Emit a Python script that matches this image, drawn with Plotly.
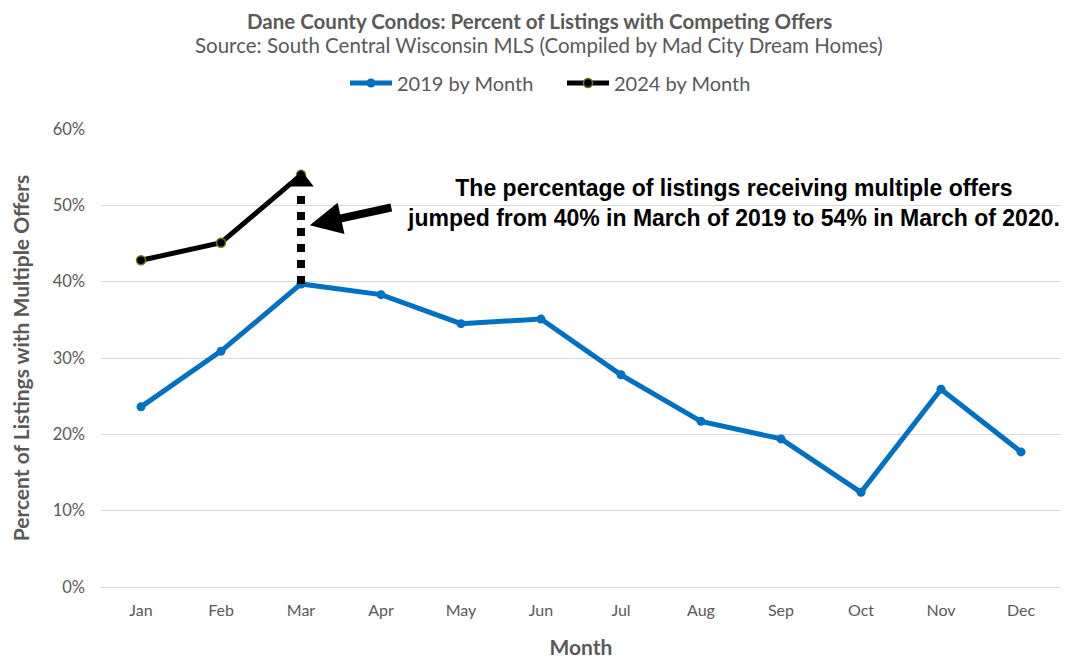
import plotly.graph_objects as go

months = ["Jan", "Feb", "Mar", "Apr", "May", "Jun", "Jul", "Aug", "Sep", "Oct", "Nov", "Dec"]
pct_2019 = [23.6, 30.9, 39.7, 38.3, 34.5, 35.1, 27.8, 21.7, 19.4, 12.4, 25.9, 17.7]
months_2024 = ["Jan", "Feb", "Mar"]
pct_2024 = [42.8, 45.1, 54.0]
y_ticks = [0, 10, 20, 30, 40, 50, 60]

FONT = "Lato"
GREY = "#595959"
OFF = 8  # page body margin
W, H = 1087 - OFF, 667 - OFF
PLOT_TOP, PLOT_BOTTOM, PLOT_LEFT, PLOT_W = 129 - OFF, 587 - OFF, 101 - OFF, 960
PLOT_H = PLOT_BOTTOM - PLOT_TOP


def px(screen_x):
    return (screen_x - OFF - PLOT_LEFT) / PLOT_W


def py(screen_y):
    return (PLOT_BOTTOM - (screen_y - OFF)) / PLOT_H


fig = go.Figure()
fig.add_trace(go.Scatter(
    x=months, y=pct_2019, mode="lines+markers", name="2019 by Month",
    line=dict(color="#0070C0", width=5), marker=dict(size=9, color="#0070C0"),
))
fig.add_trace(go.Scatter(
    x=months_2024, y=pct_2024, mode="lines+markers", name="2024 by Month",
    line=dict(color="#000000", width=5),
    marker=dict(size=9, color="#000000", line=dict(color="#6B7A1E", width=1.5)),
))
# dotted vertical arrow from Mar 2019 to Mar 2024
fig.add_trace(go.Scatter(
    x=["Mar", "Mar"], y=[pct_2019[2], pct_2024[2] - 2.2], mode="lines",
    line=dict(color="#000000", width=8, dash="dot"), showlegend=False, hoverinfo="skip",
))
fig.add_trace(go.Scatter(
    x=["Mar"], y=[pct_2024[2] - 0.8], mode="markers",
    marker=dict(symbol="triangle-up", size=22, color="#000000"),
    showlegend=False, hoverinfo="skip",
))

fig.add_annotation(
    x=2.11, y=47.4, xref="x", yref="y", ax=83, ay=-18,
    showarrow=True, arrowhead=2, arrowsize=0.8, arrowwidth=8, arrowcolor="#000000", text="",
)
fig.add_annotation(
    x=px(733), y=py(203), xref="paper", yref="paper", showarrow=False,
    text="The percentage of listings receiving multiple offers<br>jumped from 40% in March of 2019 to 54% in March of 2020.",
    font=dict(family="Liberation Sans", size=23, color="#000000", weight="bold"),
    align="center", xanchor="center", yanchor="middle",
)
# title lines
fig.add_annotation(
    x=px(539), y=py(21), xref="paper", yref="paper", showarrow=False,
    text="<b>Dane County Condos: Percent of Listings with Competing Offers</b>",
    font=dict(family=FONT, size=20.5, color=GREY), xanchor="center", yanchor="middle",
    borderpad=0,
)
fig.add_annotation(
    x=px(539), y=py(45), xref="paper", yref="paper", showarrow=False,
    text="Source: South Central Wisconsin MLS (Compiled by Mad City Dream Homes)",
    font=dict(family=FONT, size=20.5, color=GREY), xanchor="center", yanchor="middle",
)

fig.update_layout(
    width=W, height=H,
    margin=dict(l=PLOT_LEFT, r=W - PLOT_LEFT - PLOT_W, t=PLOT_TOP, b=H - PLOT_BOTTOM, autoexpand=False),
    paper_bgcolor="white", plot_bgcolor="white",
    font=dict(family=FONT, color=GREY),
    legend=dict(
        orientation="h", x=px(345), xanchor="left", y=py(83), yanchor="middle",
        font=dict(family=FONT, size=20, color=GREY),
        entrywidth=160, entrywidthmode="pixels", itemwidth=42,
    ),
    xaxis=dict(
        categoryorder="array", categoryarray=months, automargin=False,
        range=[-0.5, len(months) - 0.5],
        showgrid=False, showline=False, ticks="",
        tickfont=dict(size=16, color=GREY), ticklabelstandoff=12,
        title=dict(text="<b>Month</b>", font=dict(size=21, color=GREY), standoff=22),
    ),
    yaxis=dict(
        range=[0, 60], tickvals=y_ticks, ticktext=[f"{v}%" for v in y_ticks], automargin=False,
        showgrid=True, gridcolor="#D9D9D9", gridwidth=1, zeroline=True,
        zerolinecolor="#D9D9D9", zerolinewidth=1,
        tickfont=dict(size=16.5, color=GREY), ticklabelstandoff=15,
        title=dict(text="<b>Percent of Listings with Multiple Offers</b>",
                   font=dict(size=21, color=GREY), standoff=20),
    ),
)

fig.write_html("out.html")
